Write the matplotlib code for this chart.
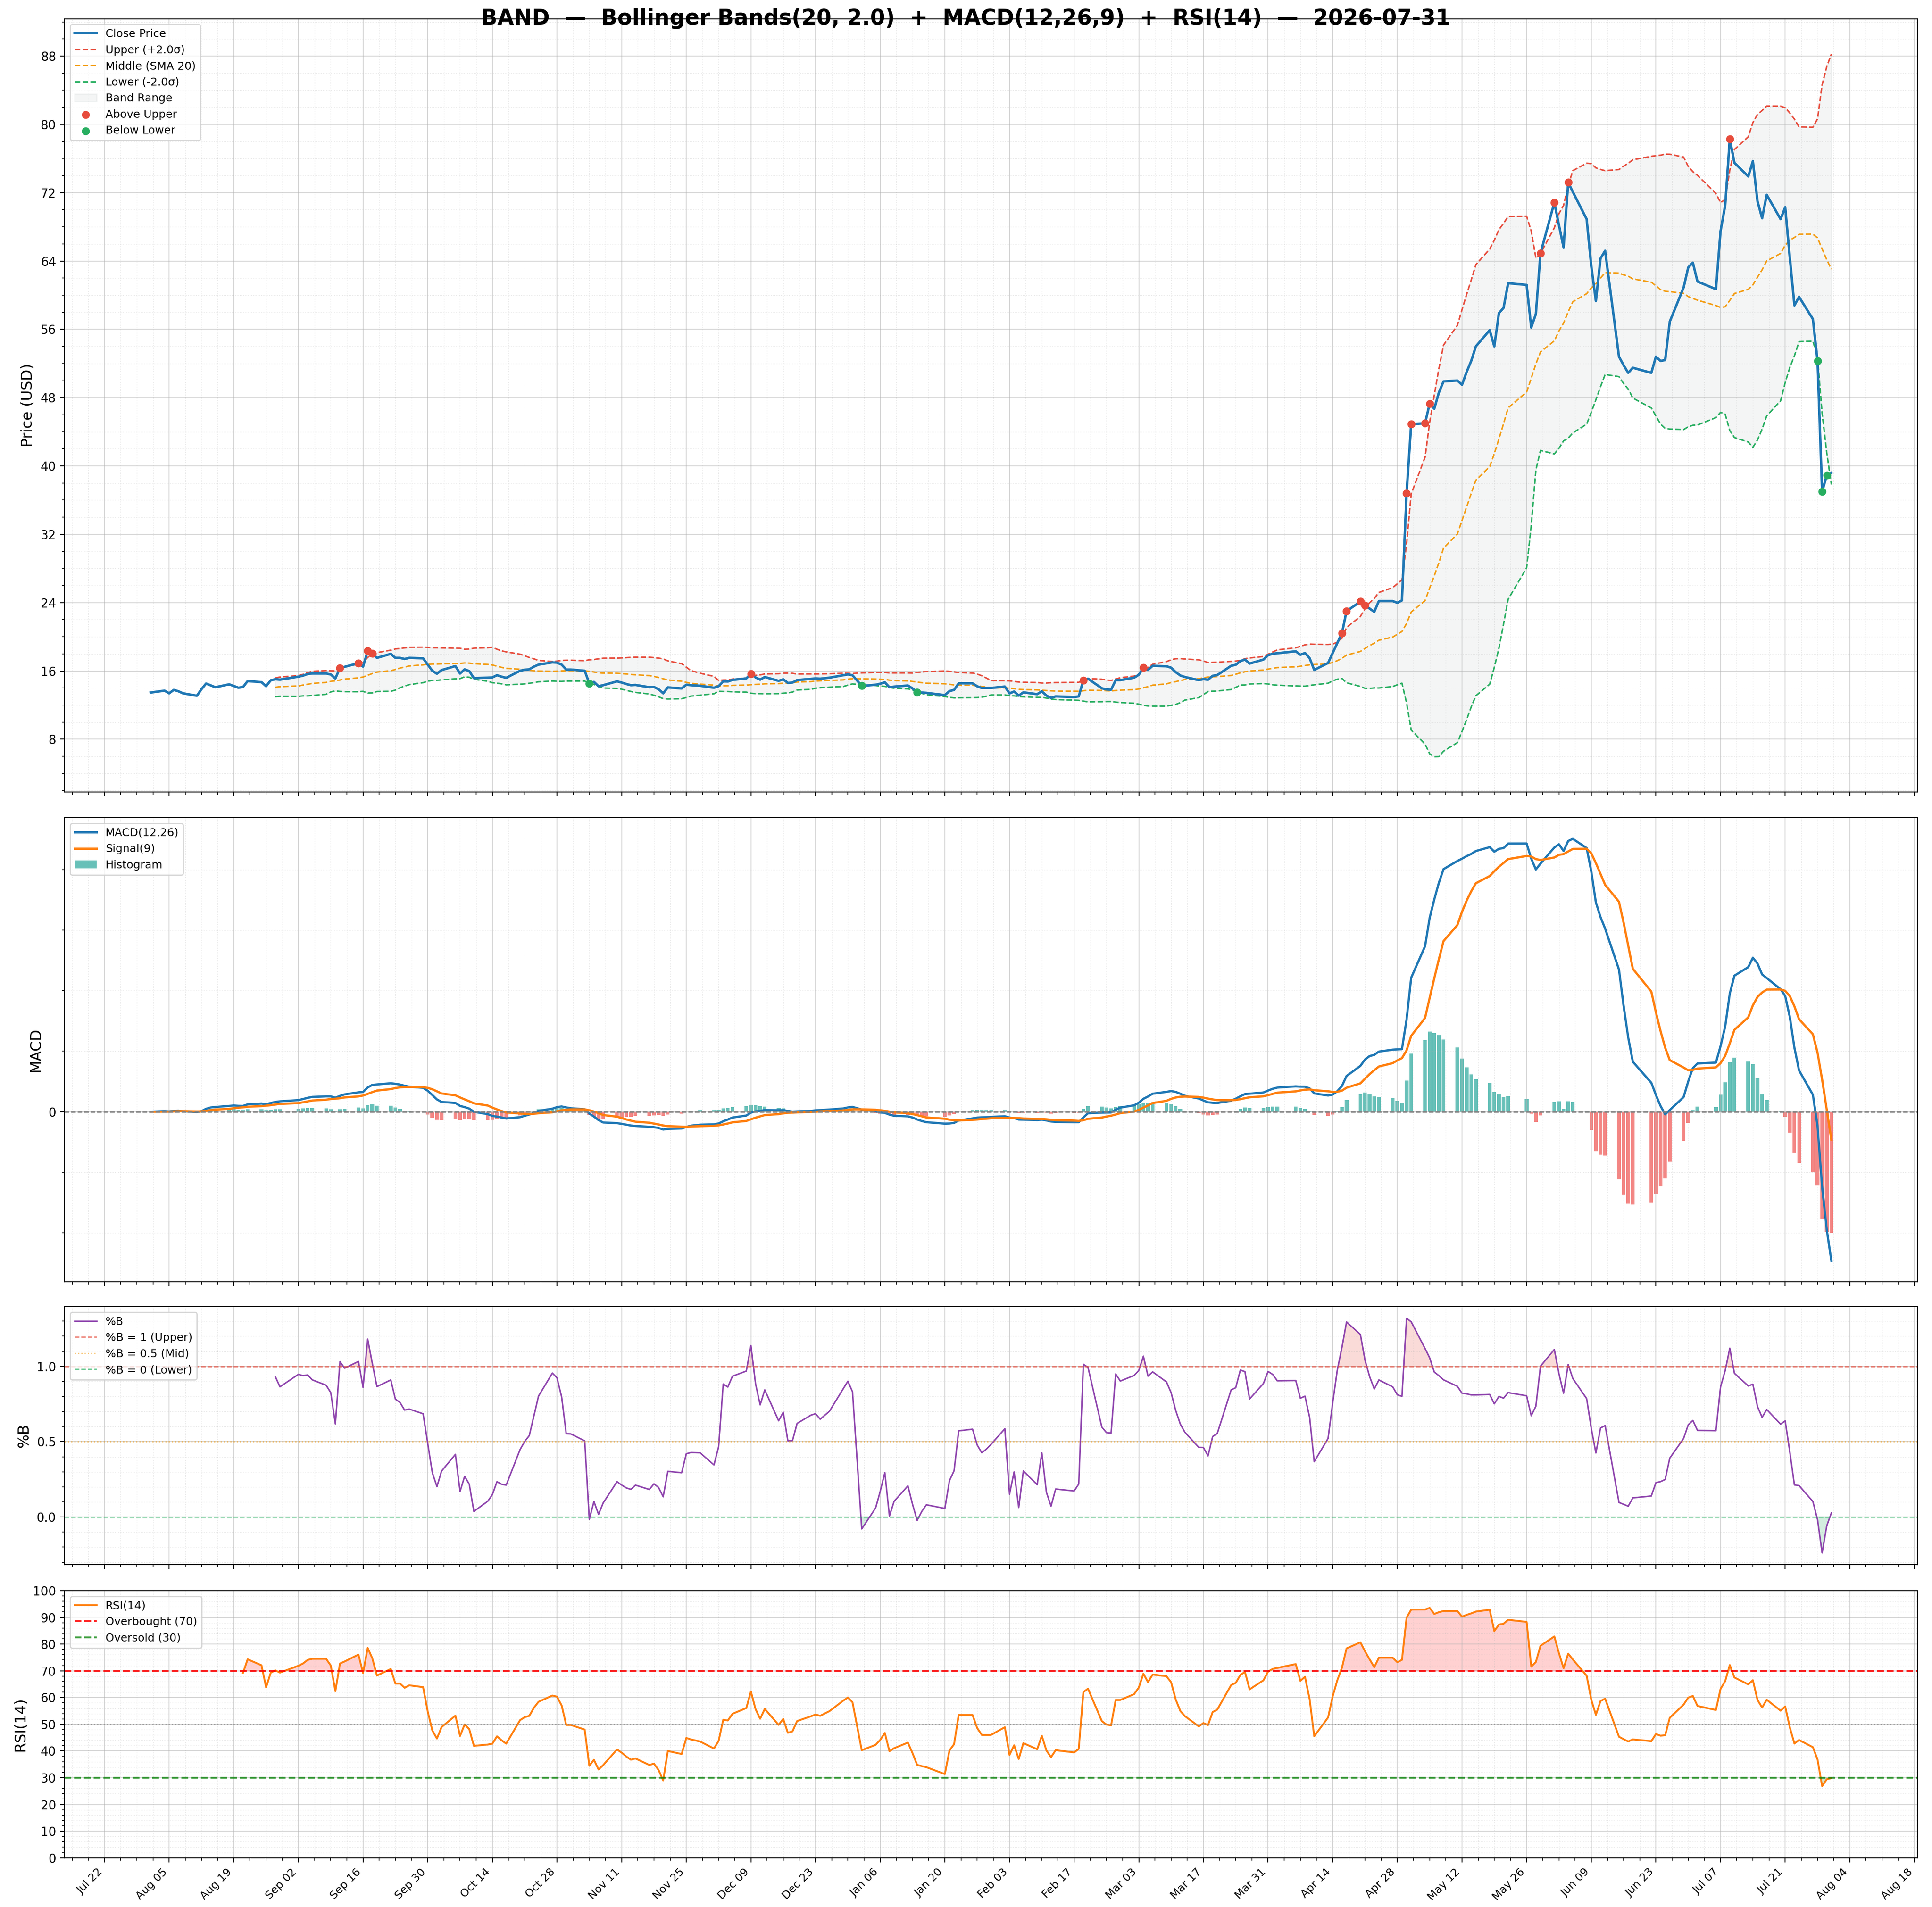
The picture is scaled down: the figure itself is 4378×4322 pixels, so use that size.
import numpy as np
import pandas as pd
import matplotlib
matplotlib.use("Agg")
import matplotlib.pyplot as plt
import matplotlib.dates as mdates
from matplotlib.ticker import MultipleLocator, AutoMinorLocator, FixedLocator, FuncFormatter

# daily closes, one list per month (trading days only)
aug_25 = [13.47, 13.69, 13.38, 13.78, 13.62, 13.38, 13.09, 13.86, 14.52, 14.31, 14.09,
          14.43, 14.24, 14.03, 14.12, 14.81, 14.69, 14.21, 14.90, 15.03, 14.98]
sep_25 = [15.33, 15.45, 15.64, 15.70, 15.70, 15.59, 15.12, 16.36, 16.48, 16.91, 16.50,
          18.34, 18.05, 17.53, 18.00, 17.53, 17.53, 17.40, 17.53, 17.48, 16.74]
oct_25 = [16.02, 15.67, 16.10, 16.57, 15.70, 16.19, 15.98, 15.16, 15.21, 15.24, 15.50,
          15.33, 15.19, 16.02, 16.14, 16.19, 16.50, 16.74, 17.00, 16.97, 16.74, 16.16, 16.16]
nov_25 = [16.02, 14.55, 14.72, 14.21, 14.33, 14.78, 14.64, 14.47, 14.33, 14.36,
          14.09, 14.12, 13.86, 13.38, 14.07, 13.95, 14.38, 14.33, 14.26]
dec_25 = [14.03, 14.21, 14.78, 14.76, 14.95, 15.12, 15.67, 15.24, 14.98, 15.29, 14.84,
          15.02, 14.60, 14.64, 14.93, 15.07, 15.12, 15.09, 15.21, 15.50, 15.59, 15.50]
jan_26 = [14.25, 14.38, 14.50, 14.67, 14.09, 14.16, 14.29, 13.95, 13.52, 13.47, 13.43,
          13.17, 13.64, 13.78, 14.55, 14.55, 14.20, 14.00, 14.00, 14.00]
feb_26 = [14.17, 13.37, 13.59, 13.11, 13.49, 13.28, 13.62, 13.11, 12.85, 13.02,
          12.94, 13.02, 14.92, 15.09, 13.97, 13.83, 13.80, 14.92, 14.92]
mar_26 = [15.21, 15.55, 16.38, 16.12, 16.60, 16.55, 16.38, 15.86, 15.47, 15.29, 14.92,
          15.04, 14.97, 15.43, 15.52, 16.60, 16.72, 17.15, 17.33, 16.86, 17.33, 17.84]
apr_26 = [18.01, 18.07, 18.30, 17.89, 18.10, 17.50, 16.12, 16.93, 18.10, 19.27, 20.42,
          23.00, 24.12, 23.69, 23.30, 22.92, 24.18, 24.18, 23.98, 24.26, 36.80]
may_26 = [44.9, 45.0, 47.3, 46.7, 48.6, 49.9, 50.0, 49.5, 51.0, 52.3, 54.0,
          55.9, 54.0, 57.9, 58.5, 61.4, 61.2, 56.2, 57.8, 64.9]
jun_26 = [70.85, 68.2, 65.6, 73.2, 72.1, 68.9, 63.4, 59.3, 64.3, 65.2, 52.8,
          51.8, 50.9, 51.5, 50.9, 52.8, 52.3, 52.4, 56.9, 60.9, 63.25]
jul_26 = [63.8, 61.6, 60.7, 67.5, 70.5, 78.3, 75.5, 73.9, 75.7, 71.0, 69.0,
          71.75, 68.9, 70.3, 64.4, 58.8, 59.8, 57.2, 52.3, 37.0, 38.9, 39.2]

holidays = ["2025-09-01", "2025-11-27", "2025-12-25", "2026-01-01", "2026-01-19",
            "2026-02-16", "2026-04-03", "2026-05-25", "2026-06-19", "2026-07-03"]

closes = (aug_25 + sep_25 + oct_25 + nov_25 + dec_25 + jan_26 +
          feb_26 + mar_26 + apr_26 + may_26 + jun_26 + jul_26)
days = pd.bdate_range("2025-08-01", "2026-07-31")
days = days[~days.isin(pd.to_datetime(holidays))]
close = pd.Series(closes, index=days)

# indicators
mid = close.rolling(20).mean()
sd = close.rolling(20).std()
upper = mid + 2.0 * sd
lower = mid - 2.0 * sd
pct_b = (close - lower) / (upper - lower)

ema12 = close.ewm(span=12, adjust=False).mean()
ema26 = close.ewm(span=26, adjust=False).mean()
macd = ema12 - ema26
signal = macd.ewm(span=9, adjust=False).mean()
hist = macd - signal

delta = close.diff()
gain = delta.clip(lower=0).ewm(alpha=1 / 14, adjust=False, min_periods=14).mean()
loss = (-delta.clip(upper=0)).ewm(alpha=1 / 14, adjust=False, min_periods=14).mean()
rsi = 100 - 100 / (1 + gain / loss)

above = close > upper
below = close < lower

W, H = 4378, 4322
fig = plt.figure(figsize=(W / 200, H / 200), dpi=200)
L, R = 146.4 / W, 4345 / W


def box(top, bottom):
    return [L, 1 - bottom / H, R - L, (bottom - top) / H]


ax1 = fig.add_axes(box(42.7, 1794.7))
ax2 = fig.add_axes(box(1853.3, 2905.4), sharex=ax1)
ax3 = fig.add_axes(box(2961.2, 3546.0), sharex=ax1)
ax4 = fig.add_axes(box(3605.0, 4210.7), sharex=ax1)

# price + bands
ax1.plot(days, close, color="#1f77b4", lw=2, label="Close Price", zorder=3)
ax1.plot(days, upper, color="#e74c3c", lw=1.2, ls="--", label="Upper (+2.0σ)")
ax1.plot(days, mid, color="#f39c12", lw=1.2, ls="--", label="Middle (SMA 20)")
ax1.plot(days, lower, color="#27ae60", lw=1.2, ls="--", label="Lower (-2.0σ)")
ax1.fill_between(days, lower, upper, color="#95a5a6", alpha=0.1, label="Band Range")
ax1.scatter(days[above], close[above], color="#e74c3c", s=30, zorder=5, label="Above Upper")
ax1.scatter(days[below], close[below], color="#27ae60", s=30, zorder=5, label="Below Lower")
ax1.set_ylabel("Price (USD)", fontsize=12)
ax1.yaxis.set_major_locator(MultipleLocator(8))
ax1.yaxis.set_minor_locator(MultipleLocator(2))
ax1.legend(loc="upper left", fontsize=9)

# MACD
bar_cols = np.where(hist >= 0, "#26a69a", "#ef5350")
ax2.bar(days, hist, width=0.8, color=bar_cols, alpha=0.7, label="Histogram")
ax2.plot(days, macd, color="#1f77b4", lw=1.8, label="MACD(12,26)")
ax2.plot(days, signal, color="#ff7f0e", lw=1.8, label="Signal(9)")
ax2.axhline(0, color="gray", lw=1, ls="--")
ax2.set_ylabel("MACD", fontsize=12)
ax2.yaxis.set_major_locator(FixedLocator([0]))
ax2.yaxis.set_minor_locator(MultipleLocator(2))
ax2.yaxis.set_major_formatter(FuncFormatter(lambda v, p: "0"))
ax2.legend(loc="upper left", fontsize=9)

# %B
ax3.plot(days, pct_b, color="#8e44ad", lw=1.2, label="%B")
ax3.axhline(1, color="#e74c3c", lw=1, ls="--", alpha=0.7, label="%B = 1 (Upper)")
ax3.axhline(0.5, color="#f39c12", lw=1, ls=":", alpha=0.6, label="%B = 0.5 (Mid)")
ax3.axhline(0, color="#27ae60", lw=1, ls="--", alpha=0.7, label="%B = 0 (Lower)")
ax3.fill_between(days, pct_b, 1, where=pct_b > 1, color="#e74c3c", alpha=0.2, interpolate=True)
ax3.fill_between(days, pct_b, 0, where=pct_b < 0, color="#27ae60", alpha=0.2, interpolate=True)
ax3.set_ylabel("%B", fontsize=12)
ax3.yaxis.set_major_locator(MultipleLocator(0.5))
ax3.yaxis.set_minor_locator(MultipleLocator(0.1))
ax3.legend(loc="upper left", fontsize=9)

# RSI
ax4.plot(days, rsi, color="#ff7f0e", lw=1.5, label="RSI(14)")
ax4.axhline(70, color="red", lw=1.5, ls="--", alpha=0.8, label="Overbought (70)")
ax4.axhline(30, color="green", lw=1.5, ls="--", alpha=0.8, label="Oversold (30)")
ax4.axhline(50, color="gray", lw=1, ls=":", alpha=0.7)
ax4.fill_between(days, rsi, 70, where=rsi > 70, color="red", alpha=0.18, interpolate=True)
ax4.fill_between(days, rsi, 30, where=rsi < 30, color="green", alpha=0.18, interpolate=True)
ax4.set_ylim(0, 100)
ax4.set_ylabel("RSI(14)", fontsize=12)
ax4.yaxis.set_major_locator(MultipleLocator(10))
ax4.yaxis.set_minor_locator(MultipleLocator(2))
ax4.legend(loc="upper left", fontsize=9)

ticks = pd.date_range("2025-07-22", "2026-08-18", freq="14D")
ax4.xaxis.set_major_locator(FixedLocator(mdates.date2num(ticks)))
ax4.xaxis.set_minor_locator(AutoMinorLocator(4))
ax4.xaxis.set_major_formatter(mdates.DateFormatter("%b %d"))
for lab in ax4.get_xticklabels():
    lab.set_rotation(45)
    lab.set_ha("right")
    lab.set_fontsize(9)

for ax in (ax1, ax2, ax3, ax4):
    ax.grid(True, which="major", color="#b0b0b0", alpha=0.5, lw=0.8)
    ax.grid(True, which="minor", color="#b0b0b0", alpha=0.35, lw=0.5, ls=":")
    ax.tick_params(axis="y", labelsize=10)
    if ax is not ax4:
        ax.tick_params(axis="x", labelbottom=False)

fig.text(0.5, 1 - 42.5 / H,
         "BAND  —  Bollinger Bands(20, 2.0)  +  MACD(12,26,9)  +  RSI(14)  —  2026-07-31",
         ha="center", va="center", fontsize=17.5, fontweight="bold")

fig.savefig("out.png", dpi=200)
